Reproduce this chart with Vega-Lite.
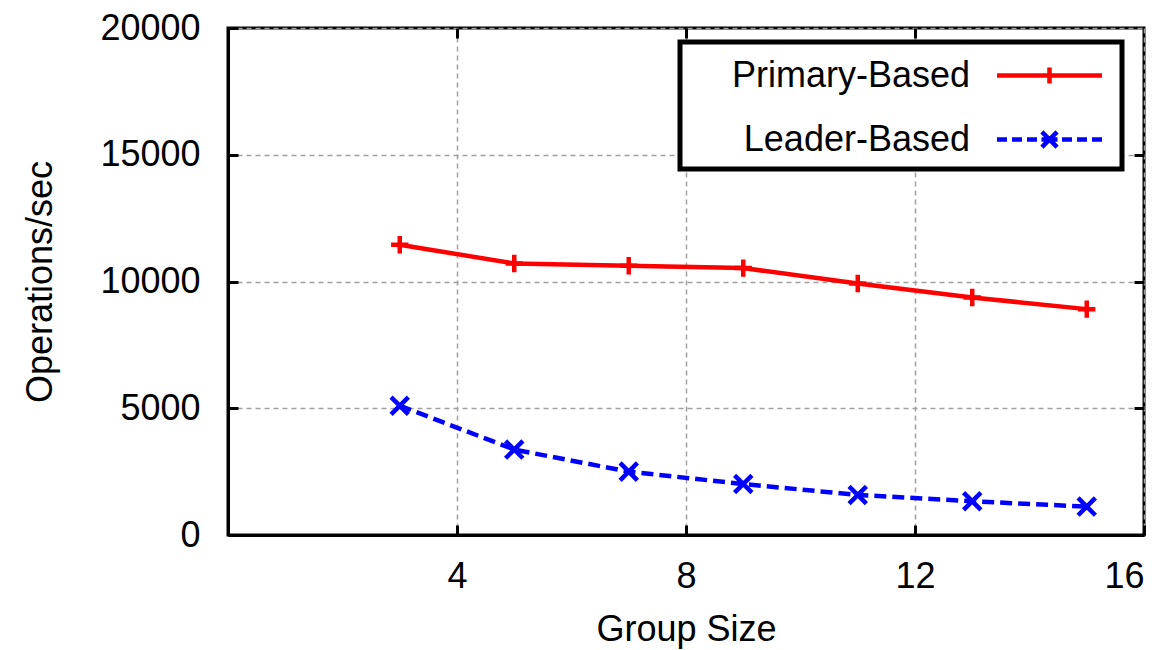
{
  "$schema": "https://vega.github.io/schema/vega-lite/v6.json",
  "width": 916,
  "height": 507,
  "autosize": "none",
  "padding": {"left": 228, "top": 28, "right": 31, "bottom": 115},
  "background": "white",
  "config": {
    "font": "Liberation Sans",
    "view": {"stroke": "black", "strokeWidth": 3},
    "axis": {
      "labelFont": "Liberation Sans",
      "labelFontSize": 36,
      "labelColor": "black",
      "titleFont": "Liberation Sans",
      "titleFontSize": 36,
      "titleFontWeight": "normal",
      "titleColor": "black",
      "domainColor": "black",
      "domainWidth": 3,
      "tickColor": "black",
      "tickWidth": 3,
      "tickSize": -10,
      "gridColor": "#a0a0a0",
      "gridDash": [5, 4],
      "gridWidth": 1.5
    },
    "legend": {
      "strokeColor": "black",
      "strokeWidth": 5,
      "fillColor": "white",
      "symbolOffset": 336,
      "symbolSize": 1600,
      "symbolStrokeWidth": 4.5,
      "rowPadding": 23,
      "padding": 11
    }
  },
  "data": {
    "values": [
      {"size": 3, "ops": 11450, "series": "Primary-Based"},
      {"size": 5, "ops": 10710, "series": "Primary-Based"},
      {"size": 7, "ops": 10620, "series": "Primary-Based"},
      {"size": 9, "ops": 10530, "series": "Primary-Based"},
      {"size": 11, "ops": 9920, "series": "Primary-Based"},
      {"size": 13, "ops": 9370, "series": "Primary-Based"},
      {"size": 15, "ops": 8910, "series": "Primary-Based"},
      {"size": 3, "ops": 5100, "series": "Leader-Based"},
      {"size": 5, "ops": 3370, "series": "Leader-Based"},
      {"size": 7, "ops": 2500, "series": "Leader-Based"},
      {"size": 9, "ops": 2010, "series": "Leader-Based"},
      {"size": 11, "ops": 1580, "series": "Leader-Based"},
      {"size": 13, "ops": 1330, "series": "Leader-Based"},
      {"size": 15, "ops": 1120, "series": "Leader-Based"}
    ]
  },
  "encoding": {
    "color": {
      "field": "series", "type": "nominal",
      "scale": {"domain": ["Primary-Based", "Leader-Based"], "range": ["#ff0000", "#0000ff"]},
      "legend": {
        "orient": "none",
        "legendX": 452,
        "legendY": 14,
        "title": null,
        "labelFont": "Liberation Sans",
        "labelFontSize": 36,
        "labelColor": "black",
        "labelLimit": 400,
        "symbolOffset": 336,
        "symbolSize": 1600,
        "symbolStrokeWidth": 4.5,
        "symbolFillColor": "transparent",
        "symbolOpacity": 1,
        "rowPadding": 23,
        "padding": 11,
        "encode": {
          "labels": {
            "update": {
              "x": {"value": 279},
              "align": {"value": "right"}
            }
          },
          "symbols": {
            "update": {
              "shape": {"signal": "datum.value === 'Primary-Based' ? 'M-2.625,0H2.625M0,-0.4V0.4' : 'M-2.625,0H-2.125M-1.875,0H-1.375M-1.125,0H-0.625M-0.4,0H0.4M0.625,0H1.125M1.375,0H1.875M2.125,0H2.625M-0.38,-0.38L0.38,0.38M-0.38,0.38L0.38,-0.38'"}
            }
          }
        }
      }
    }
  },
  "layer": [
    {
      "transform": [{"filter": "datum.series === 'Primary-Based'"}],
      "mark": {"type": "line", "strokeWidth": 4.5},
      "encoding": {
        "x": {
          "field": "size", "type": "quantitative",
          "scale": {"domain": [0, 16], "nice": false, "zero": false},
          "axis": {"orient": "bottom", "values": [4, 8, 12, 16], "title": "Group Size", "grid": true, "labelPadding": 34, "titlePadding": 18}
        },
        "y": {
          "field": "ops", "type": "quantitative",
          "scale": {"domain": [0, 20000], "nice": false},
          "axis": {"orient": "left", "values": [0, 5000, 10000, 15000, 20000], "format": "d", "title": "Operations/sec", "grid": true, "labelPadding": 38, "titlePadding": 40}
        }
      }
    },
    {
      "transform": [{"filter": "datum.series === 'Leader-Based'"}],
      "mark": {"type": "line", "strokeWidth": 4.5, "strokeDash": [12, 6]},
      "encoding": {
        "x": {
          "field": "size", "type": "quantitative",
          "scale": {"domain": [0, 16], "nice": false, "zero": false},
          "axis": {"orient": "top", "values": [4, 8, 12], "labels": false, "ticks": true, "tickSize": -10, "tickColor": "black", "tickWidth": 3, "grid": false, "domain": false, "title": null}
        },
        "y": {
          "field": "ops", "type": "quantitative",
          "scale": {"domain": [0, 20000], "nice": false},
          "axis": {"orient": "right", "values": [5000, 10000, 15000], "labels": false, "ticks": true, "tickSize": -10, "tickColor": "black", "tickWidth": 3, "grid": false, "domain": false, "title": null}
        }
      }
    },
    {
      "transform": [{"filter": "datum.series === 'Primary-Based'"}],
      "mark": {"type": "point", "shape": "M-1,0H1M0,-1V1", "filled": false, "strokeWidth": 4.5, "size": 300, "opacity": 1},
      "encoding": {
        "x": {"field": "size", "type": "quantitative", "scale": {"domain": [0, 16], "nice": false, "zero": false}, "axis": null},
        "y": {"field": "ops", "type": "quantitative", "scale": {"domain": [0, 20000], "nice": false}, "axis": null}
      }
    },
    {
      "transform": [{"filter": "datum.series === 'Leader-Based'"}],
      "mark": {"type": "point", "shape": "M-1,-1L1,1M-1,1L1,-1", "filled": false, "strokeWidth": 4.5, "size": 300, "opacity": 1},
      "encoding": {
        "x": {"field": "size", "type": "quantitative", "scale": {"domain": [0, 16], "nice": false, "zero": false}, "axis": null},
        "y": {"field": "ops", "type": "quantitative", "scale": {"domain": [0, 20000], "nice": false}, "axis": null}
      }
    }
  ],
  "resolve": {"axis": {"x": "independent", "y": "independent"}}
}
